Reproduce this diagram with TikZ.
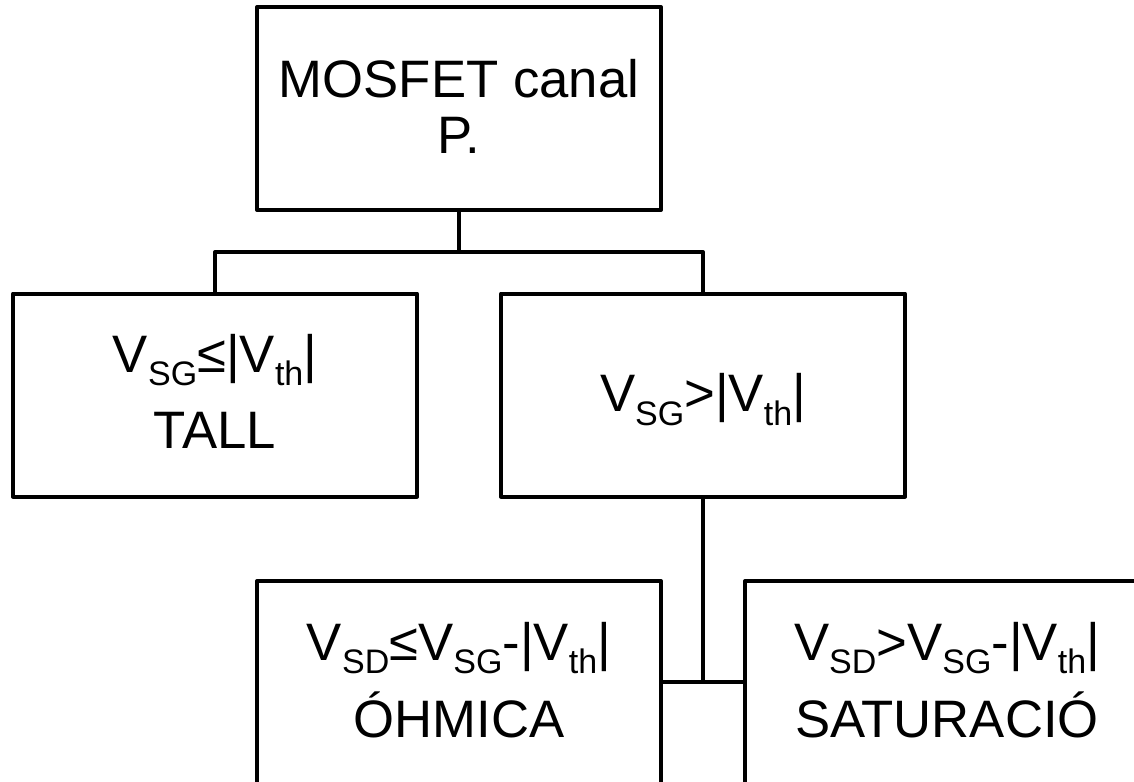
\documentclass[tikz,border=0pt]{standalone}
\usepackage{fontspec}
\setmainfont{Liberation Sans}
\newcommand\sbs[1]{\raisebox{-13.5pt}{\fontsize{34}{34}\selectfont #1}}
\newcommand\txtline[2]{\makebox[0pt]{\raisebox{#1}[0pt][0pt]{#2}}}
\begin{document}
\begin{tikzpicture}[x=1pt,y=-1pt,
  box/.style={draw, line width=4pt, line join=round, minimum width=404pt, minimum height=203pt,
    inner sep=0pt, font=\fontsize{52.7}{56}\selectfont},
  conn/.style={draw, line width=4pt, line join=round}]
\useasboundingbox (0,0) rectangle (1134,781);
\clip (0,0) rectangle (1134,781);
\node[box] (top) at (459,108.5) {\txtline{10.8pt}{MOSFET canal}\txtline{-44.5pt}{P.}};
\node[box] (left) at (215,395) {\txtline{23pt}{V\sbs{SG}≤|V\sbs{th}|}\txtline{-53pt}{TALL}};
\node[box] (mid) at (703,395) {\txtline{-16.7pt}{V\sbs{SG}>|V\sbs{th}|}};
\node[box, minimum height=208pt] (bl) at (459,685) {\txtline{25pt}{V\sbs{SD}≤V\sbs{SG}-|V\sbs{th}|}\txtline{-52pt}{ÓHMICA}};
\node[box, minimum height=208pt] (br) at (947,685) {\txtline{25pt}{V\sbs{SD}>V\sbs{SG}-|V\sbs{th}|}\txtline{-52pt}{SATURACIÓ}};
\coordinate (j1) at (459,252);
\coordinate (j2) at (703,682);
\draw[conn] (top.south) -- (j1);
\draw[conn] (left.north) |- (j1) -| (mid.north);
\draw[conn] (mid.south) -- (j2);
\draw[conn] (bl.east |- j2) -- (br.west |- j2);
\end{tikzpicture}
\end{document}
